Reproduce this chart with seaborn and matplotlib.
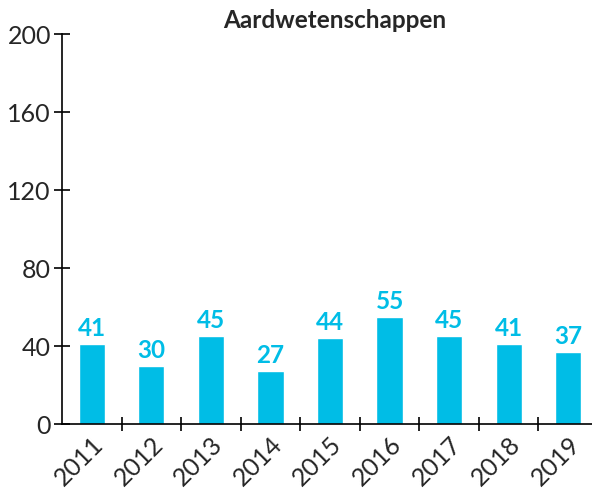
import matplotlib
matplotlib.use("Agg")
import matplotlib.pyplot as plt
import seaborn as sns
import pandas as pd

years = ["2011", "2012", "2013", "2014", "2015", "2016", "2017", "2018", "2019"]
values = [41, 30, 45, 27, 44, 55, 45, 41, 37]
title = "Aardwetenschappen"
yticks = [0, 40, 80, 120, 160, 200]

sns.set_style("ticks")
plt.rcParams['font.family'] = ['Lato', 'DejaVu Sans']

color = "#00BDE6"
W, H = 592, 493
fig = plt.figure(figsize=(W / 100, H / 100), dpi=100)
ax = fig.add_axes([62 / W, (H - 424) / H, (598 - 62) / W, 390 / H])

df = pd.DataFrame({"year": years, "value": values})
sns.barplot(data=df, x="year", y="value", color=color, saturation=1, width=0.44, ax=ax)

for i, v in enumerate(values):
    ax.text(i, v + 2, str(v), ha="center", va="bottom", color=color,
            fontsize=17.5, fontweight="bold")

ax.set_xlim(-0.5, len(years) - 0.5)
ax.set_ylim(0, 200)
ax.set_yticks(yticks)
ax.set_yticklabels([str(t) for t in yticks], fontsize=18)
ax.set_xticks([i + 0.5 for i in range(len(years) - 1)], minor=False)
ax.set_xticklabels([])
ax.set_xticks(range(len(years)), minor=True)
ax.set_xticklabels(years, minor=True, rotation=45, ha="right", rotation_mode="anchor", fontsize=18)
ax.tick_params(axis="x", which="minor", length=0, pad=6)
ax.tick_params(axis="x", which="major", direction="inout", length=10, width=1.2, color="black")
ax.tick_params(axis="y", direction="inout", length=12, width=1.2, color="black", pad=2)
ax.set_xlabel("")
ax.set_ylabel("")
for s in ["top", "right"]:
    ax.spines[s].set_visible(False)
for s in ["left", "bottom"]:
    ax.spines[s].set_linewidth(1.2)
    ax.spines[s].set_color("black")

fig.text(335 / W, 1 - 20 / H, title, ha="center", va="center", fontsize=17.5, fontweight="bold")

fig.savefig("out.png", dpi=100)
